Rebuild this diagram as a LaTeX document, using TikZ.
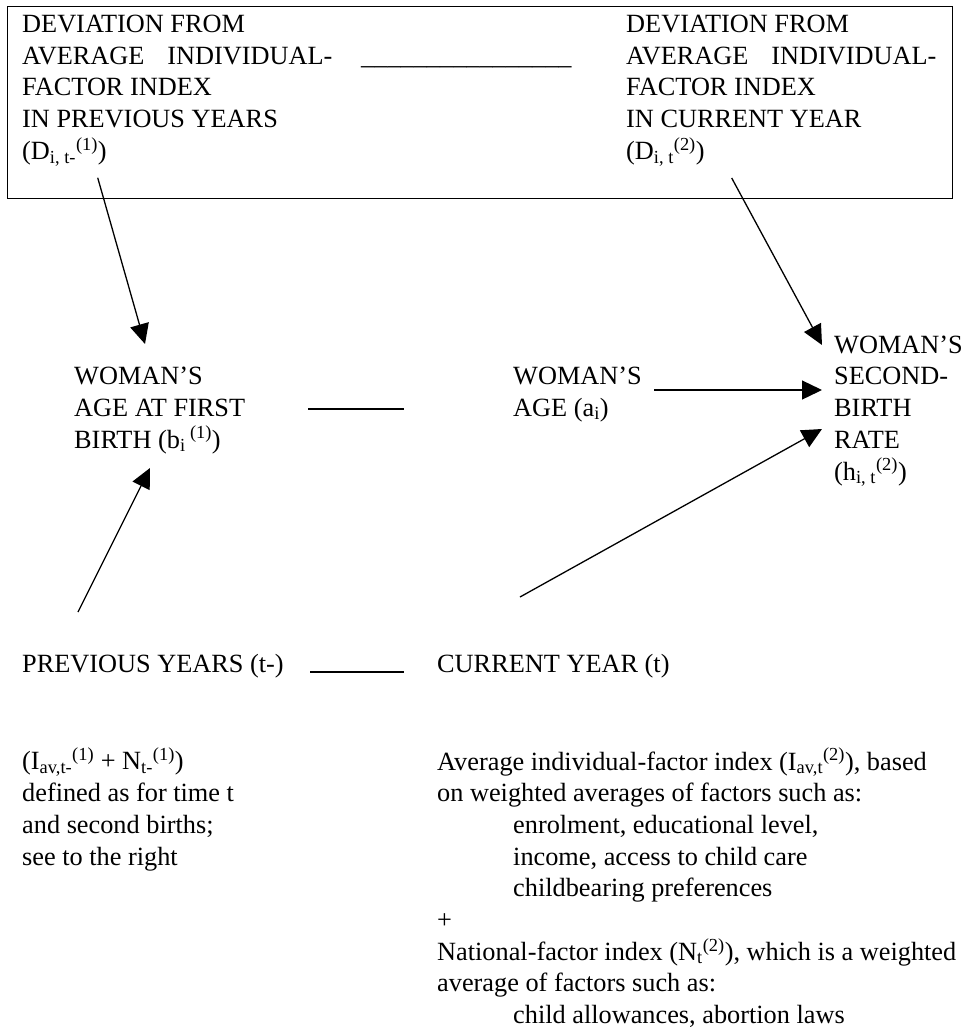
\documentclass[tikz,border=0pt]{standalone}
\usepackage{fontspec}
\setmainfont{Liberation Serif}
\usetikzlibrary{arrows.meta, positioning, calc}

\tikzset{
  txt/.style={align=left, anchor=base west, inner sep=0pt, font=\fontsize{26.3}{31.7}\selectfont},
  arr/.style={line width=1.3pt, -{Triangle[length=20pt, width=19pt]}},
  link/.style={line width=1.6pt}
}

\begin{document}
\begin{tikzpicture}[x=1pt, y=-1pt]
  \useasboundingbox (0,0) rectangle (969,1029);

  \node[draw, line width=1.3pt, anchor=north west, inner sep=0pt, minimum width=945pt, minimum height=192pt] (frame) at (6.7,5.7) {};
  \node[txt] (devprev) at (22,159.3) {
    DEVIATION FROM\\
    AVERAGE\hspace*{0.87em}INDIVIDUAL-\\
    FACTOR INDEX\\
    IN PREVIOUS YEARS\\
    (D\textsubscript{i, t-}\textsuperscript{(1)})
  };
  \node[txt] (gap) at (361,64) {\_\_\_\_\_\_\_\_\_\_\_\_\_\_\_\_};
  \node[txt] (devcur) at (626,159.3) {
    DEVIATION FROM\\
    AVERAGE\hspace*{0.87em}INDIVIDUAL-\\
    FACTOR INDEX\\
    IN CURRENT YEAR\\
    (D\textsubscript{i, t}\textsuperscript{(2)})
  };

  \node[txt] (agefirst) at (74,448) {
    WOMAN’S\\
    AGE AT FIRST\\
    BIRTH (b\textsubscript{i}\,\textsuperscript{(1)})
  };
  \node[txt] (age) at (513,416) {
    WOMAN’S\\
    AGE (a\textsubscript{i})
  };
  \node[txt] (rate) at (834,480) {
    WOMAN’S\\
    SECOND-\\
    BIRTH\\
    RATE\\
    (h\textsubscript{i, t}\textsuperscript{(2)})
  };

  \node[txt] (prev) at (22,672) {PREVIOUS YEARS (t-)};
  \node[txt] (cur) at (437,672) {CURRENT YEAR (t)};

  \node[txt] (prevdef) at (22,865) {
    (I\textsubscript{av,t-}\textsuperscript{(1)} + N\textsubscript{t-}\textsuperscript{(1)})\\
    defined as for time t\\
    and second births;\\
    see to the right
  };
  \node[txt] (curdef) at (437,1023.6) {
    Average individual-factor index (I\textsubscript{av,t}\textsuperscript{(2)}), based\\
    on weighted averages of factors such as:\\
    \hspace*{76pt}enrolment, educational level,\\
    \hspace*{76pt}income, access to child care\\
    \hspace*{76pt}childbearing preferences\\
    +\\
    National-factor index (N\textsubscript{t}\textsuperscript{(2)}), which is a weighted\\
    average of factors such as:\\
    \hspace*{76pt}child allowances, abortion laws
  };

  \coordinate (prevout) at (97.7,177.7);
  \coordinate (curout) at (731.7,178);
  \coordinate (agefirstin) at (145,344);
  \coordinate (ratein1) at (822,345);
  \coordinate (ageout) at (654,390);
  \coordinate (ratein2) at (822,390);
  \coordinate (prevup) at (78,612);
  \coordinate (agefirstin2) at (150,468);
  \coordinate (curup) at (520,597);
  \coordinate (ratein3) at (822,429);
  \coordinate (midA) at (308,409);
  \coordinate (midB) at (404,409);
  \coordinate (lowA) at (310,672);
  \coordinate (lowB) at (404,672);

  \draw[arr] (prevout) -- (agefirstin);
  \draw[arr] (curout) -- (ratein1);
  \draw[arr] (ageout) -- (ratein2);
  \draw[arr] (prevup) -- (agefirstin2);
  \draw[arr] (curup) -- (ratein3);
  \draw[link] (midA) -- (midB);
  \draw[link] (lowA) -- (lowB);
\end{tikzpicture}
\end{document}
